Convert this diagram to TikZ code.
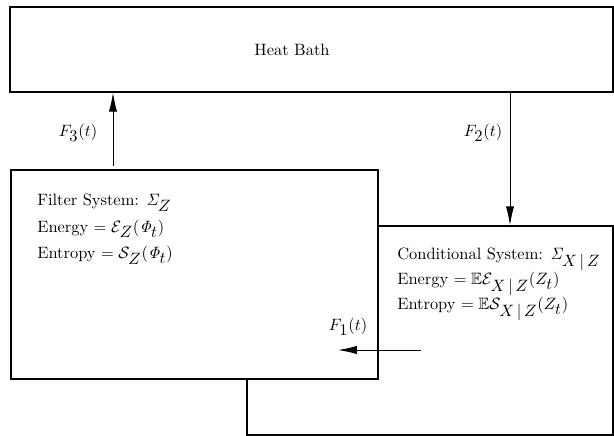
\documentclass[tikz,border=0pt]{standalone}
\usepackage{amsmath, amssymb}
\usepackage{tikz}
\usetikzlibrary{
    arrows.meta,
    calc,
    positioning
}
\tikzset{
    sysbox/.style={draw=black, line width=0.9pt, fill=white, inner sep=0pt},
    flowarrow/.style={-{Latex[length=11.5pt, width=5pt]}, line width=0.6pt},
    systext/.style={anchor=north west, inner sep=0pt, align=left},
    note/.style={inner sep=0pt}
}
\DeclareMathSizes{10}{10}{10}{7}
\newcommand{\pxu}{0.0214cm}

\begin{document}
\sbox0{$ $}\fontdimen16\textfont2=3.2pt \fontdimen17\textfont2=3.2pt
\begin{tikzpicture}[x=0.0214cm, y=-0.0214cm]
    \useasboundingbox (0,0) rectangle (614,436);
    \node[sysbox, minimum width=603*\pxu, minimum height=85*\pxu] (bath) at (311.5,49.5) {};
    \node[note] (bathlab) at (292,50) {Heat Bath};
    \node[sysbox, minimum width=366*\pxu, minimum height=209*\pxu] (cond) at (430,330.5) {};
    \node[sysbox, minimum width=367*\pxu, minimum height=209*\pxu] (filter) at (194.5,274.5) {};
    \node[systext] (filtertext) at (37,194) {Filter System: $\mathit{\Sigma}_Z$\\[4pt]
        Energy $=\mathcal{E}_Z(\mathit{\Phi}_t)$\\[4pt]
        Entropy $=\mathcal{S}_Z(\mathit{\Phi}_t)$};
    \node[systext] (condtext) at (397,248) {Conditional System: $\mathit{\Sigma}_{X\,|\,Z}$\\
        Energy $=\mathbb{E}\mathcal{E}_{X\,|\,Z}(Z_t)$\\
        Entropy $=\mathbb{E}\mathcal{S}_{X\,|\,Z}(Z_t)$};
    \coordinate (f3start) at (113,166);
    \coordinate (f2start) at (510,92);
    \coordinate (f1start) at (421,350);
    \coordinate (f1end) at (338,350);
    \draw[flowarrow] (f3start) -- (f3start |- bath.south);
    \draw[flowarrow] (f2start |- bath.south) -- (f2start |- cond.north);
    \draw[flowarrow] (f1start) -- (f1end);
    \node[note] (f3lab) at (78,133) {$F_3(t)$};
    \node[note] (f2lab) at (483,133) {$F_2(t)$};
    \node[note] (f1lab) at (348,327) {$F_1(t)$};
\end{tikzpicture}
\end{document}
